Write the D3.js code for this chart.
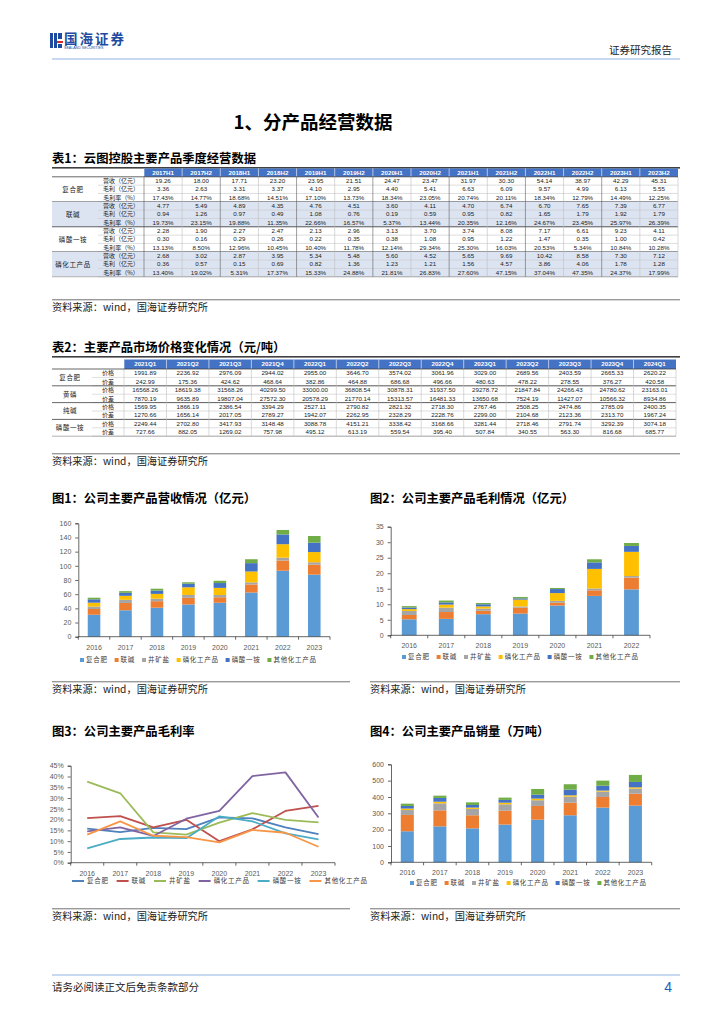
<!DOCTYPE html>
<html>
<head>
<meta charset="utf-8">
<script src="https://cdnjs.cloudflare.com/ajax/libs/d3/7.8.5/d3.min.js"></script>
<style>
body { margin: 0; background: #fff; }
svg { display: block; font-family: "Noto Sans CJK SC", "Noto Sans", sans-serif; }
</style>
</head>
<body>
<div id="page"></div>
<script>
// ---------- table 1 data ----------
var halfYears = ["2017H1", "2017H2", "2018H1", "2018H2", "2019H1", "2019H2", "2020H1", "2020H2",
    "2021H1", "2021H2", "2022H1", "2022H2", "2023H1", "2023H2"];
var t1Groups = ["复合肥", "联碱", "磷酸一铵", "磷化工产品"];
var t1Metrics = ["营收（亿元）", "毛利（亿元）", "毛利率（%）"];
var fhfHalf = [
    ["19.26", "18.00", "17.71", "23.20", "23.95", "21.51", "24.47", "23.47", "31.97", "30.30", "54.14", "38.97", "42.29", "45.31"],
    ["3.36", "2.63", "3.31", "3.37", "4.10", "2.95", "4.40", "5.41", "6.63", "6.09", "9.57", "4.99", "6.13", "5.55"],
    ["17.43%", "14.77%", "18.68%", "14.51%", "17.10%", "13.73%", "18.34%", "23.05%", "20.74%", "20.11%", "18.34%", "12.79%", "14.49%", "12.25%"]
];
var ljHalf = [
    ["4.77", "5.49", "4.89", "4.35", "4.76", "4.51", "3.60", "4.11", "4.70", "6.74", "6.70", "7.65", "7.39", "6.77"],
    ["0.94", "1.26", "0.97", "0.49", "1.08", "0.76", "0.19", "0.59", "0.95", "0.82", "1.65", "1.79", "1.92", "1.79"],
    ["19.73%", "23.15%", "19.88%", "11.35%", "22.66%", "16.57%", "5.37%", "13.44%", "20.35%", "12.16%", "24.67%", "23.45%", "25.97%", "26.39%"]
];
var lsyaHalf = [
    ["2.28", "1.90", "2.27", "2.47", "2.13", "2.96", "3.13", "3.70", "3.74", "8.08", "7.17", "6.61", "9.23", "4.11"],
    ["0.30", "0.16", "0.29", "0.26", "0.22", "0.35", "0.38", "1.08", "0.95", "1.22", "1.47", "0.35", "1.00", "0.42"],
    ["13.13%", "8.50%", "12.96%", "10.45%", "10.40%", "11.78%", "12.14%", "29.34%", "25.30%", "16.03%", "20.53%", "5.34%", "10.84%", "10.28%"]
];
var lhgHalf = [
    ["2.68", "3.02", "2.87", "3.95", "5.34", "5.48", "5.60", "4.52", "5.65", "9.69", "10.42", "8.58", "7.30", "7.12"],
    ["0.36", "0.57", "0.15", "0.69", "0.82", "1.36", "1.23", "1.21", "1.56", "4.57", "3.86", "4.06", "1.78", "1.28"],
    ["13.40%", "19.02%", "5.31%", "17.37%", "15.33%", "24.88%", "21.81%", "26.83%", "27.60%", "47.15%", "37.04%", "47.35%", "24.37%", "17.99%"]
];

// ---------- table 2 data ----------
var quarters = ["2021Q1", "2021Q2", "2021Q3", "2021Q4", "2022Q1", "2022Q2", "2022Q3", "2022Q4",
    "2023Q1", "2023Q2", "2023Q3", "2023Q4", "2024Q1"];
var t2Groups = ["复合肥", "黄磷", "纯碱", "磷酸一铵"];
var t2Metrics = ["价格", "价差"];
var fhfPrice = [
    ["1991.89", "2236.92", "2976.09", "2944.02", "2955.00", "3646.70", "3574.02", "3061.96", "3029.00", "2689.56", "2403.59", "2665.33", "2620.22"],
    ["242.99", "175.36", "424.62", "468.64", "382.86", "464.88", "686.68", "496.66", "480.63", "478.22", "278.55", "376.27", "420.58"]
];
var hlPrice = [
    ["16568.26", "18619.38", "31568.26", "40299.50", "33000.00", "36808.54", "30878.31", "31937.50", "29278.72", "21847.84", "24266.43", "24780.62", "23163.01"],
    ["7870.19", "9635.89", "19807.04", "27572.30", "20578.29", "21770.14", "15313.57", "16481.33", "13650.68", "7524.19", "11427.07", "10566.32", "8934.86"]
];
var cjPrice = [
    ["1569.95", "1866.19", "2386.54", "3394.29", "2527.11", "2790.82", "2821.32", "2718.30", "2767.46", "2508.25", "2474.86", "2785.09", "2400.35"],
    ["1270.66", "1656.14", "2017.05", "2789.27", "1942.07", "2262.95", "2328.29", "2228.76", "2299.00", "2104.68", "2123.36", "2313.70", "1967.24"]
];
var lsyaPrice = [
    ["2249.44", "2702.80", "3417.93", "3148.48", "3088.78", "4151.21", "3338.42", "3168.66", "3281.44", "2718.46", "2791.74", "3292.39", "3074.18"],
    ["727.66", "882.05", "1269.02", "757.98", "495.12", "613.19", "559.54", "395.40", "507.84", "340.55", "563.30", "816.68", "685.77"]
];

// ---------- chart data ----------
var products = ["复合肥", "联碱", "井矿盐", "磷化工产品", "磷酸一铵", "其他化工产品"];
var years8 = ["2016", "2017", "2018", "2019", "2020", "2021", "2022", "2023"];
var years7 = ["2016", "2017", "2018", "2019", "2020", "2021", "2022"];

// fig 1: revenue (亿元)
var revFhf = [31.0, 37.3, 40.9, 45.5, 47.9, 62.3, 93.1, 87.6];
var revLj = [8.1, 10.3, 9.2, 9.3, 7.7, 11.4, 14.4, 14.2];
var revJky = [3.3, 4.4, 3.5, 4.1, 3.2, 3.0, 4.0, 3.2];
var revLhg = [5.6, 5.7, 6.8, 10.8, 10.1, 15.3, 19.0, 14.4];
var revLsya = [4.7, 4.2, 4.7, 5.1, 6.8, 11.8, 13.8, 13.3];
var revQt = [2.3, 2.4, 2.6, 2.0, 3.2, 5.5, 6.3, 9.4];

// fig 2: gross profit (亿元)
var gpFhf = [5.15, 5.3, 6.8, 7.0, 9.6, 12.7, 14.8];
var gpLj = [1.4, 2.2, 1.1, 1.9, 0.9, 1.8, 3.8];
var gpJky = [1.3, 1.4, 0.7, 0.4, 0.6, 0.6, 0.5];
var gpLhg = [0.6, 1.0, 0.7, 2.2, 2.5, 6.3, 7.8];
var gpLsya = [0.5, 0.7, 0.7, 0.4, 1.3, 2.1, 1.9];
var gpQt = [0.45, 0.6, 0.4, 0.45, 0.35, 1.0, 0.95];

// fig 3: gross margin (%)
var gmFhf = [15.8, 14.2, 16.2, 15.6, 21.0, 20.6, 16.4, 13.3];
var gmLj = [20.7, 21.6, 16.4, 19.9, 10.0, 15.5, 24.0, 26.4];
var gmJky = [37.6, 32.2, 14.1, 13.0, 18.6, 23.0, 19.9, 18.7];
var gmLhg = [14.5, 16.4, 12.4, 20.4, 24.0, 40.2, 41.9, 21.0];
var gmLsya = [6.6, 11.0, 11.7, 11.4, 21.5, 19.2, 13.6, 10.8];
var gmQt = [13.0, 19.2, 12.5, 11.9, 9.4, 15.2, 13.9, 7.4];

// fig 4: sales volume (万吨)
var volFhf = [190, 220, 208, 231, 261, 288, 335, 347];
var volLj = [100, 98, 80, 85, 84, 77, 65, 73];
var volJky = [30, 43, 39, 39, 35, 37, 33, 31];
var volLhg = [9, 10, 8, 10, 10, 8, 6, 8];
var volLsya = [16, 23, 16, 17, 24, 35, 30, 33];
var volQt = [14, 14, 16, 14, 35, 33, 31, 43];

var barColors = ["#5B9BD5", "#ED7D31", "#A5A5A5", "#FFC000", "#4472C4", "#70AD47"];
var lineColors = ["#4F81BD", "#C0504D", "#9BBB59", "#8064A2", "#4BACC6", "#F79646"];

var svg = d3.select("#page").append("svg")
    .attr("width", 724)
    .attr("height", 1024);

// ---------- page header ----------
var logo = svg.append("g");
logo.append("rect").attr("x", 50).attr("y", 33).attr("width", 3).attr("height", 15).attr("fill", "#1E4BA0");
logo.append("rect").attr("x", 54).attr("y", 33).attr("width", 3).attr("height", 15).attr("fill", "#1E4BA0");
logo.append("rect").attr("x", 58).attr("y", 33).attr("width", 4).attr("height", 6).attr("fill", "#1E4BA0");
logo.append("rect").attr("x", 57).attr("y", 41).attr("width", 6).attr("height", 2).attr("fill", "#D7282F");
logo.append("rect").attr("x", 58).attr("y", 44).attr("width", 4).attr("height", 4).attr("fill", "#1E4BA0");
logo.append("text").attr("x", 64).attr("y", 43.5).attr("font-size", 13.5).attr("font-weight", "bold")
    .attr("fill", "#1E4BA0").attr("letter-spacing", 2).text("国海证券");
logo.append("text").attr("x", 64).attr("y", 49).attr("font-size", 3.6)
    .attr("fill", "#1E4BA0").attr("font-family", "Liberation Sans").text("SEALAND SECURITIES");

svg.append("text").attr("x", 672).attr("y", 54).attr("text-anchor", "end")
    .attr("font-size", 10.5).attr("fill", "#222").text("证券研究报告");
svg.append("line").attr("x1", 52).attr("x2", 680).attr("y1", 59).attr("y2", 59)
    .attr("stroke", "#8DB3E2").attr("stroke-width", 1.2);

svg.append("text").attr("x", 313).attr("y", 129).attr("text-anchor", "middle")
    .attr("font-size", 18.5).attr("font-weight", "bold").attr("fill", "#000").text("1、分产品经营数据");

// ---------- helpers ----------
function blockTitle(x, y, w, txt, rule) {
    svg.append("text").attr("x", x).attr("y", y).attr("font-size", 12.3)
        .attr("font-weight", "bold").attr("fill", "#000").text(txt);
    if (rule) {
        svg.append("rect").attr("x", x).attr("y", y + 4).attr("width", w).attr("height", 1.6).attr("fill", "#404040");
    }
}

function sourceNote(x, y, w) {
    svg.append("rect").attr("x", x).attr("y", y - 12).attr("width", w).attr("height", 1.4).attr("fill", "#9a9a9a");
    svg.append("text").attr("x", x).attr("y", y).attr("font-size", 10.2).attr("fill", "#222")
        .text("资料来源：wind，国海证券研究所");
}

function drawTable(cfg) {
    var g = svg.append("g");
    var nRows = cfg.groups.length * cfg.metrics.length;
    var x = d3.scaleBand().domain(cfg.cols).range([cfg.dataX0, cfg.dataX1]);
    var rowIds = d3.range(nRows);
    var y = d3.scaleBand().domain(rowIds).range([cfg.y0 + cfg.headH, cfg.y0 + cfg.headH + nRows * cfg.rowH]);

    // header
    g.append("rect").attr("x", cfg.dataX0).attr("y", cfg.y0).attr("width", cfg.dataX1 - cfg.dataX0)
        .attr("height", cfg.headH).attr("fill", "#4472C4");
    g.selectAll(".hd").data(cfg.cols).enter().append("text")
        .attr("x", d => x(d) + x.bandwidth() / 2)
        .attr("y", cfg.y0 + cfg.headH / 2 + 2.2)
        .attr("text-anchor", "middle").attr("font-size", 6.2).attr("font-weight", "bold")
        .attr("fill", "#fff").attr("font-family", "Liberation Sans, Arial")
        .text(d => d);

    cfg.groups.forEach(function (grp, gi) {
        var r0 = gi * cfg.metrics.length;
        var gy0 = y(r0), gy1 = y(r0 + cfg.metrics.length - 1) + y.bandwidth();
        if (cfg.shade && gi % 2 === 1) {
            g.append("rect").attr("x", cfg.x0).attr("y", gy0).attr("width", cfg.dataX1 - cfg.x0)
                .attr("height", gy1 - gy0).attr("fill", "#DCE4F2");
        }
        g.append("text").attr("x", cfg.groupX).attr("y", (gy0 + gy1) / 2 + 2.3)
            .attr("text-anchor", "middle").attr("font-size", 6.5).attr("fill", "#222")
            .attr("letter-spacing", 0.6).text(grp);
        cfg.metrics.forEach(function (m, mi) {
            var ri = r0 + mi;
            g.append("text").attr("x", cfg.labelX).attr("y", y(ri) + y.bandwidth() / 2 + 2.2)
                .attr("text-anchor", "middle").attr("font-size", 6).attr("fill", "#222").text(m);
            g.selectAll(null).data(cfg.values[gi][mi]).enter().append("text")
                .attr("x", (d, i) => x(cfg.cols[i]) + x.bandwidth() / 2)
                .attr("y", y(ri) + y.bandwidth() / 2 + 2.2)
                .attr("text-anchor", "middle").attr("font-size", 6.2).attr("fill", "#222")
                .attr("font-family", "Liberation Sans, Arial")
                .text(d => d);
            // row separator
            g.append("line").attr("x1", cfg.labelX0).attr("x2", cfg.dataX1)
                .attr("y1", y(ri) + y.bandwidth()).attr("y2", y(ri) + y.bandwidth())
                .attr("stroke", "#c8c8c8").attr("stroke-width", 0.6);
        });
        g.append("line").attr("x1", cfg.x0).attr("x2", cfg.dataX1).attr("y1", gy1).attr("y2", gy1)
            .attr("stroke", gi === cfg.groups.length - 1 ? "#a0a0a0" : "#404040").attr("stroke-width", 0.8);
    });
    // column separators
    var yTop = cfg.y0, yBot = cfg.y0 + cfg.headH + nRows * cfg.rowH;
    g.selectAll(".vs").data(cfg.cols).enter().append("line")
        .attr("x1", d => x(d)).attr("x2", d => x(d))
        .attr("y1", cfg.y0 + cfg.headH).attr("y2", yBot)
        .attr("stroke", (d, i) => (cfg.yearEvery && i % cfg.yearEvery === 0) ? "#606060" : "#c0c0c0")
        .attr("stroke-width", 0.6);
    g.selectAll(".hs").data(cfg.cols).enter().append("line")
        .attr("x1", d => x(d)).attr("x2", d => x(d))
        .attr("y1", yTop).attr("y2", cfg.y0 + cfg.headH)
        .attr("stroke", "#ffffff").attr("stroke-width", 0.6);
    g.append("line").attr("x1", cfg.dataX1).attr("x2", cfg.dataX1).attr("y1", cfg.y0 + cfg.headH).attr("y2", yBot)
        .attr("stroke", "#c0c0c0").attr("stroke-width", 0.6);
    g.append("line").attr("x1", cfg.x0).attr("x2", cfg.dataX1).attr("y1", cfg.y0 + cfg.headH).attr("y2", cfg.y0 + cfg.headH)
        .attr("stroke", "#404040").attr("stroke-width", 0.8);
}

function legend(items, colors, x, y, kind) {
    var g = svg.append("g");
    var cx = x;
    items.forEach(function (name, i) {
        if (kind === "line") {
            g.append("line").attr("x1", cx).attr("x2", cx + 12).attr("y1", y).attr("y2", y)
                .attr("stroke", colors[i]).attr("stroke-width", 2);
            cx += 15;
        } else {
            g.append("rect").attr("x", cx).attr("y", y - 2).attr("width", 4).attr("height", 4).attr("fill", colors[i]);
            cx += 6;
        }
        var t = g.append("text").attr("x", cx).attr("y", y + 2.4).attr("font-size", 6.5)
            .attr("letter-spacing", 0.7).attr("fill", "#404040").text(name);
        cx += t.node().getComputedTextLength() + (kind === "line" ? 8 : 7);
    });
}

function axisStyle(sel) {
    sel.select(".domain").attr("stroke", "#404040").attr("stroke-width", 0.8);
    sel.selectAll(".tick line").attr("stroke", "#404040").attr("stroke-width", 0.8);
    sel.selectAll(".tick text").attr("font-size", 7).attr("fill", "#595959")
        .attr("font-family", "Liberation Sans, Arial");
}

function catAxis(cats, x0, x1, y0, band) {
    var ax = d3.axisBottom(band).tickSize(0).tickPadding(8);
    var g = svg.append("g").attr("transform", `translate(0, ${y0})`).call(ax);
    axisStyle(g);
    g.select(".domain").attr("d", `M${x0},0H${x1}`);
    var step = (x1 - x0) / cats.length;
    g.selectAll(".bd").data(d3.range(cats.length + 1)).enter().append("line")
        .attr("x1", i => x0 + i * step).attr("x2", i => x0 + i * step)
        .attr("y1", 0).attr("y2", 3).attr("stroke", "#404040").attr("stroke-width", 0.8);
}

function stackedBars(cfg) {
    var rows = cfg.cats.map(function (c, i) {
        var o = { cat: c };
        cfg.keys.forEach(function (k, j) { o[k] = cfg.series[j][i]; });
        return o;
    });
    var stack = d3.stack().keys(cfg.keys)(rows);
    var x = d3.scaleBand().domain(cfg.cats).range([cfg.x0, cfg.x1]).paddingInner(0.6).paddingOuter(0.3);
    var y = d3.scaleLinear().domain([0, cfg.yMax]).range([cfg.y0, cfg.y1]);

    var yAxis = d3.axisLeft(y).tickValues(d3.range(0, cfg.yMax + 1, cfg.yStep)).tickSize(3).tickPadding(4);
    var ya = svg.append("g").attr("transform", `translate(${cfg.x0}, 0)`).call(yAxis);
    axisStyle(ya);

    svg.append("g").selectAll("g").data(stack).enter().append("g")
        .attr("fill", (d, i) => barColors[i])
        .selectAll("rect").data(d => d).enter().append("rect")
        .attr("x", d => x(d.data.cat))
        .attr("width", x.bandwidth())
        .attr("y", d => y(d[1]))
        .attr("height", d => y(d[0]) - y(d[1]));

    var xl = d3.scaleBand().domain(cfg.cats).range([cfg.x0, cfg.x1]);
    catAxis(cfg.cats, cfg.x0, cfg.x1, cfg.y0, xl);
    legend(cfg.keys, barColors, cfg.legX, cfg.legY, "rect");
}

function lineChart(cfg) {
    var x = d3.scalePoint().domain(cfg.cats).range([cfg.x0, cfg.x1]).padding(0.5);
    var y = d3.scaleLinear().domain([0, cfg.yMax]).range([cfg.y0, cfg.y1]);
    var yAxis = d3.axisLeft(y).tickValues(d3.range(0, cfg.yMax + 1, cfg.yStep)).tickSize(3).tickPadding(4)
        .tickFormat(d => d + "%");
    var ya = svg.append("g").attr("transform", `translate(${cfg.x0}, 0)`).call(yAxis);
    axisStyle(ya);
    var xl = d3.scaleBand().domain(cfg.cats).range([cfg.x0, cfg.x1]);
    catAxis(cfg.cats, cfg.x0, cfg.x1, cfg.y0, xl);

    var line = d3.line().x((d, i) => x(cfg.cats[i])).y(d => y(d));
    svg.append("g").selectAll("path").data(cfg.series).enter().append("path")
        .attr("d", d => line(d))
        .attr("fill", "none")
        .attr("stroke", (d, i) => lineColors[i])
        .attr("stroke-width", 1.8)
        .attr("stroke-linejoin", "round");
    legend(cfg.keys, lineColors, cfg.legX, cfg.legY, "line");
}

// ---------- table 1 ----------
blockTitle(52, 163, 628, "表1：云图控股主要产品季度经营数据", true);
drawTable({
    cols: halfYears, groups: t1Groups, metrics: t1Metrics,
    values: [fhfHalf, ljHalf, lsyaHalf, lhgHalf],
    x0: 52, groupX: 73, labelX0: 98, labelX: 121, dataX0: 144, dataX1: 678,
    y0: 168.5, headH: 8.3, rowH: 8.33, shade: true, yearEvery: 2
});
sourceNote(52, 311, 628);

// ---------- table 2 ----------
blockTitle(52, 352, 628, "表2：主要产品市场价格变化情况（元/吨）", true);
drawTable({
    cols: quarters, groups: t2Groups, metrics: t2Metrics,
    values: [fhfPrice, hlPrice, cjPrice, lsyaPrice],
    x0: 52, groupX: 70, labelX0: 92, labelX: 108, dataX0: 124, dataX1: 676,
    y0: 359.5, headH: 9.5, rowH: 8.4, shade: false, yearEvery: 0
});
sourceNote(52, 465, 628);

// ---------- figures ----------
blockTitle(52, 503, 298, "图1：公司主要产品营收情况（亿元）", false);
blockTitle(370, 503, 310, "图2：公司主要产品毛利情况（亿元）", false);

stackedBars({
    cats: years8, keys: products,
    series: [revFhf, revLj, revJky, revLhg, revLsya, revQt],
    x0: 78.3, x1: 330, y0: 636.7, y1: 523.3, yMax: 160, yStep: 20,
    legX: 80, legY: 660
});
stackedBars({
    cats: years7, keys: products,
    series: [gpFhf, gpLj, gpJky, gpLhg, gpLsya, gpQt],
    x0: 390.7, x1: 650, y0: 635.3, y1: 526.7, yMax: 35, yStep: 5,
    legX: 402, legY: 657
});
sourceNote(52, 693, 298);
sourceNote(370, 693, 310);

blockTitle(52, 736, 298, "图3：公司主要产品毛利率", false);
blockTitle(370, 736, 310, "图4：公司主要产品销量（万吨）", false);

lineChart({
    cats: years8, keys: products,
    series: [gmFhf, gmLj, gmJky, gmLhg, gmLsya, gmQt],
    x0: 70.7, x1: 335, y0: 862.7, y1: 765.7, yMax: 45, yStep: 5,
    legX: 72, legY: 881
});
stackedBars({
    cats: years8, keys: products,
    series: [volFhf, volLj, volJky, volLhg, volLsya, volQt],
    x0: 391, x1: 651.7, y0: 862.3, y1: 764.3, yMax: 600, yStep: 100,
    legX: 410, legY: 883
});
sourceNote(52, 920, 298);
sourceNote(370, 920, 310);

// ---------- footer ----------
svg.append("line").attr("x1", 52).attr("x2", 680).attr("y1", 975).attr("y2", 975)
    .attr("stroke", "#8DB3E2").attr("stroke-width", 1.2);
svg.append("text").attr("x", 52).attr("y", 991).attr("font-size", 10.5).attr("fill", "#222")
    .text("请务必阅读正文后免责条款部分");
svg.append("text").attr("x", 672).attr("y", 992).attr("text-anchor", "end")
    .attr("font-size", 14).attr("fill", "#1F5FBF").attr("font-family", "Liberation Sans, Arial").text("4");
</script>
</body>
</html>
